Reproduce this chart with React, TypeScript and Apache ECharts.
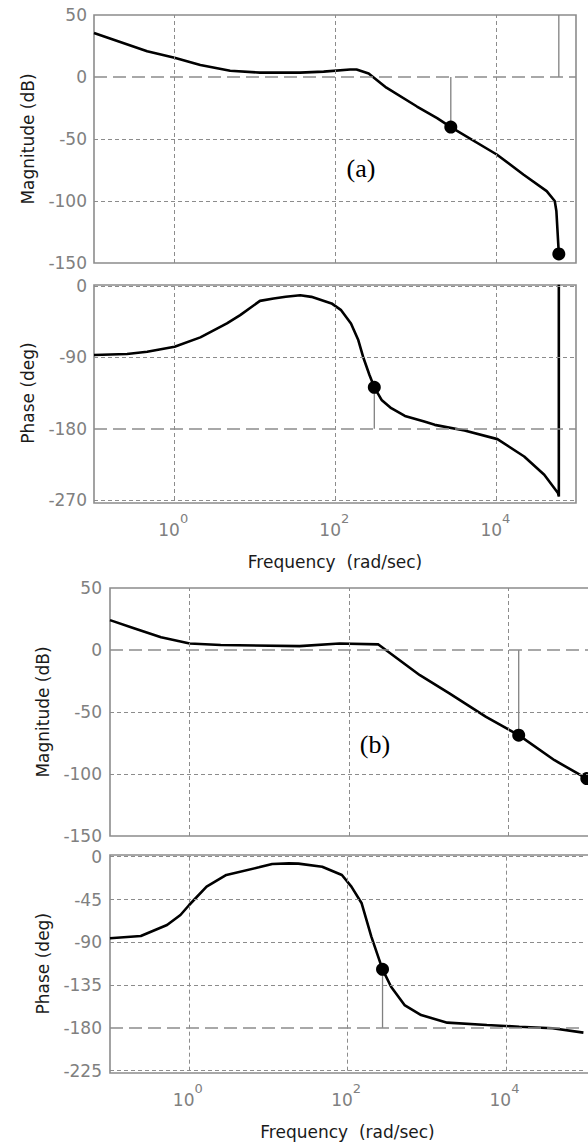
import React, { useEffect, useRef } from "react";
import * as echarts from "echarts";

// ---------- data (frequency in rad/sec) ----------
// (a) magnitude
const magAFreq = [0.1, 0.457, 1, 2.09, 4.9, 11.5, 36, 71, 151, 182, 257, 427, 1023, 1820, 2690, 10000, 21400, 41700, 52500, 55000, 59000];
const magADb = [35.5, 20.8, 15.5, 9.6, 5, 3.5, 3.5, 4.3, 6, 6, 2.9, -8.6, -23.8, -33.2, -40.4, -62.5, -78.6, -92, -100, -108, -142.7];
// (a) phase (last point: wrap jump above the plot)
const phaseAFreq = [0.1, 0.257, 0.457, 1, 2.09, 4.47, 6.53, 11.5, 17, 24, 36.3, 50, 89, 117, 155, 191, 219, 263, 302, 372, 490, 724, 1259, 1700, 3980, 10200, 21900, 38900, 57500, 59000, 59000];
const phaseADeg = [-87.1, -85.8, -83, -76.7, -64.8, -47.2, -36.8, -18.8, -15.7, -13.5, -11.6, -13.7, -22, -30.5, -47.2, -68.2, -89.2, -112.3, -127.8, -143.8, -154.2, -163.9, -171.1, -175.2, -182.4, -193.2, -215.1, -238.2, -261.2, -265.5, 60];
// (b) magnitude
const magBFreq = [0.1, 0.204, 0.437, 1, 2.45, 24, 76, 234, 776, 1820, 5250, 13500, 38000, 96600];
const magBDb = [24.1, 17.4, 10.2, 5.3, 4, 3.1, 5.3, 4.5, -20.3, -35, -54, -68.7, -88.9, -103.7];
// (b) phase
const phaseBFreq = [0.1, 0.245, 0.525, 0.776, 1, 1.66, 2.95, 7.59, 11.2, 18.2, 24, 47.9, 85, 112, 151, 200, 277, 355, 525, 851, 1820, 5750, 14800, 38900, 95500];
const phaseBDeg = [-85.8, -83.4, -71.8, -61.3, -50.8, -31.5, -19.2, -11.2, -7.7, -7, -7.3, -10.5, -19.2, -31.5, -49, -84, -118.4, -136.7, -156, -166.5, -174.5, -177, -178.8, -180.4, -185];

// margin markers: [frequency, value]
const magAMarks = [[2690, -40.4], [59000, -142.7]];
const phaseAMarks = [[302, -127.8]];
const magBMarks = [[13500, -68.7], [96600, -103.7]];
const phaseBMarks = [[277, -118.4]];
// stems: [frequency, from, to]
const magAStems = [[2690, -40.4, 0], [59000, 0, 50]];
const phaseAStems = [[302, -127.8, -180], [59000, -180, -265.5]];
const magBStems = [[13500, -68.7, 0]];
const phaseBStems = [[277, -118.4, -180]];

// ticks
const magTicks = [50, 0, -50, -100, -150];
const phaseATicks = [0, -90, -180, -270];
const phaseBTicks = [0, -45, -90, -135, -180, -225];
const freqGridLines = [1, 100, 10000];
const freqLabelExps = [0, 2, 4];

const FONT = "DejaVu Sans";
const GREY = "#808080";

const shortDash = { color: "#8c8c8c", width: 1, type: [4, 3] as any };
const longDash = { color: "#8c8c8c", width: 1.6, type: [13, 6] as any };

function pairs(xs: number[], ys: number[]) {
  return xs.map((x, i) => [x, ys[i]]);
}

export default function App() {
  const ref = useRef<HTMLDivElement>(null);
  useEffect(() => {
    if (!ref.current) return;
    const chart = echarts.init(ref.current, undefined, { renderer: "svg" });

    const grids = [
      { left: 94, top: 15, width: 482, height: 248 },
      { left: 94, top: 286, width: 482, height: 214 },
      { left: 110, top: 588, width: 481, height: 248 },
      { left: 110, top: 856.7, width: 481, height: 214 },
    ];
    const xMax = [96400, 96400, 100000, 100000];

    const baseX = (i: number) => ({
      type: "log",
      gridIndex: i,
      position: "bottom",
      min: 0.1,
      max: xMax[i],
      logBase: 10,
      axisLine: { show: false },
      axisTick: { show: false },
      splitLine: { show: false },
    });
    const expOf = (v: number) => Math.round(Math.log10(v));

    const xAxes: any[] = grids.map((_, i) => {
      const isPhase = i === 1 || i === 3;
      return {
        ...baseX(i),
        name: isPhase ? "Frequency  (rad/sec)" : "",
        nameLocation: "middle",
        nameGap: 53,
        nameTextStyle: { color: "#1a1a1a", fontSize: 17, fontFamily: FONT },
        axisLabel: {
          show: isPhase,
          margin: 21,
          color: GREY,
          fontSize: 17,
          fontFamily: FONT,
          padding: [0, 11, 0, 0],
          formatter: (v: number) => (freqLabelExps.includes(expOf(v)) ? "10" : ""),
        },
      };
    });
    // exponent (superscript) labels for the two phase plots
    [1, 3].forEach((g) => {
      xAxes.push({
        ...baseX(g),
        axisLabel: {
          show: true,
          margin: 11.5,
          color: GREY,
          fontSize: 13,
          fontFamily: FONT,
          padding: [0, 0, 0, 19],
          formatter: (v: number) => (freqLabelExps.includes(expOf(v)) ? String(expOf(v)) : ""),
        },
      });
    });

    const yDefs = [
      { ticks: magTicks, interval: 50, name: "Magnitude (dB)", margin: 7, gap: 58 },
      { ticks: phaseATicks, interval: 90, name: "Phase (deg)", margin: 7, gap: 58 },
      { ticks: magTicks, interval: 50, name: "Magnitude (dB)", margin: 8, gap: 59 },
      { ticks: phaseBTicks, interval: 45, name: "Phase (deg)", margin: 8, gap: 59 },
    ];
    const yAxes = yDefs.map((d, i) => ({
      type: "value",
      gridIndex: i,
      min: Math.min(...d.ticks),
      max: Math.max(...d.ticks),
      interval: d.interval,
      axisLine: { show: false },
      axisTick: { show: false },
      splitLine: { show: false },
      axisLabel: { color: GREY, fontSize: 17, fontFamily: FONT, margin: d.margin },
      name: d.name,
      nameLocation: "middle",
      nameGap: d.gap,
      nameTextStyle: { color: "#1a1a1a", fontSize: 17, fontFamily: FONT },
    }));

    const gridLineData = (i: number) => {
      const isMag = i === 0 || i === 2;
      const ticks = yDefs[i].ticks;
      const h: any[] = [];
      ticks.forEach((t, k) => {
        if (isMag && (k === 0 || k === ticks.length - 1)) return;
        const special = isMag ? t === 0 : t === -180;
        h.push({ yAxis: t, lineStyle: special ? longDash : shortDash });
      });
      const v = freqGridLines.map((f) => ({ xAxis: f, lineStyle: shortDash }));
      return [...h, ...v];
    };

    const curves = [
      pairs(magAFreq, magADb),
      pairs(phaseAFreq, phaseADeg),
      pairs(magBFreq, magBDb),
      pairs(phaseBFreq, phaseBDeg),
    ];
    const marks = [magAMarks, phaseAMarks, magBMarks, phaseBMarks];
    const stems = [magAStems, phaseAStems, magBStems, phaseBStems];

    const series: any[] = [];
    grids.forEach((_, i) => {
      series.push({
        type: "line",
        xAxisIndex: i,
        yAxisIndex: i,
        data: [],
        silent: true,
        z: 1,
        markLine: {
          symbol: ["none", "none"],
          silent: true,
          animation: false,
          label: { show: false },
          emphasis: { disabled: true },
          data: gridLineData(i),
        },
      });
      stems[i].forEach((s) => {
        series.push({
          type: "line",
          xAxisIndex: i,
          yAxisIndex: i,
          data: [[s[0], s[1]], [s[0], s[2]]],
          showSymbol: false,
          silent: true,
          lineStyle: { color: GREY, width: 1.3 },
          z: 2,
        });
      });
      series.push({
        type: "line",
        xAxisIndex: i,
        yAxisIndex: i,
        data: curves[i],
        showSymbol: false,
        silent: true,
        clip: true,
        lineStyle: { color: "#000", width: 2.6 },
        z: 3,
      });
      series.push({
        type: "scatter",
        xAxisIndex: i,
        yAxisIndex: i,
        data: marks[i],
        symbolSize: 13,
        silent: true,
        itemStyle: { color: "#000", opacity: 1 },
        z: 4,
      });
    });

    const frames = [
      [94, 15, 482, 248],
      [94, 285, 482, 218],
      [110, 588, 481, 248],
      [110, 855, 481, 218],
    ].map(([x, y, w, h]) => ({
      type: "rect",
      shape: { x, y, width: w, height: h },
      style: { fill: "none", stroke: "#8c8c8c", lineWidth: 1.6 },
      silent: true,
      z: 0,
    }));

    chart.setOption({
      animation: false,
      backgroundColor: "#fff",
      grid: grids,
      xAxis: xAxes,
      yAxis: yAxes,
      series,
      graphic: [
        ...frames,
        {
          type: "text",
          x: 361,
          y: 168,
          style: { text: "(a)", font: '26px "Liberation Serif"', fill: "#000", align: "center", verticalAlign: "middle" },
          z: 10,
        },
        {
          type: "text",
          x: 375,
          y: 744,
          style: { text: "(b)", font: '26px "Liberation Serif"', fill: "#000", align: "center", verticalAlign: "middle" },
          z: 10,
        },
      ],
    });
    return () => chart.dispose();
  }, []);
  return (
    <div
      ref={ref}
      style={{ position: "fixed", left: 0, top: 0, width: 588, height: 1143, background: "#fff" }}
    />
  );
}
